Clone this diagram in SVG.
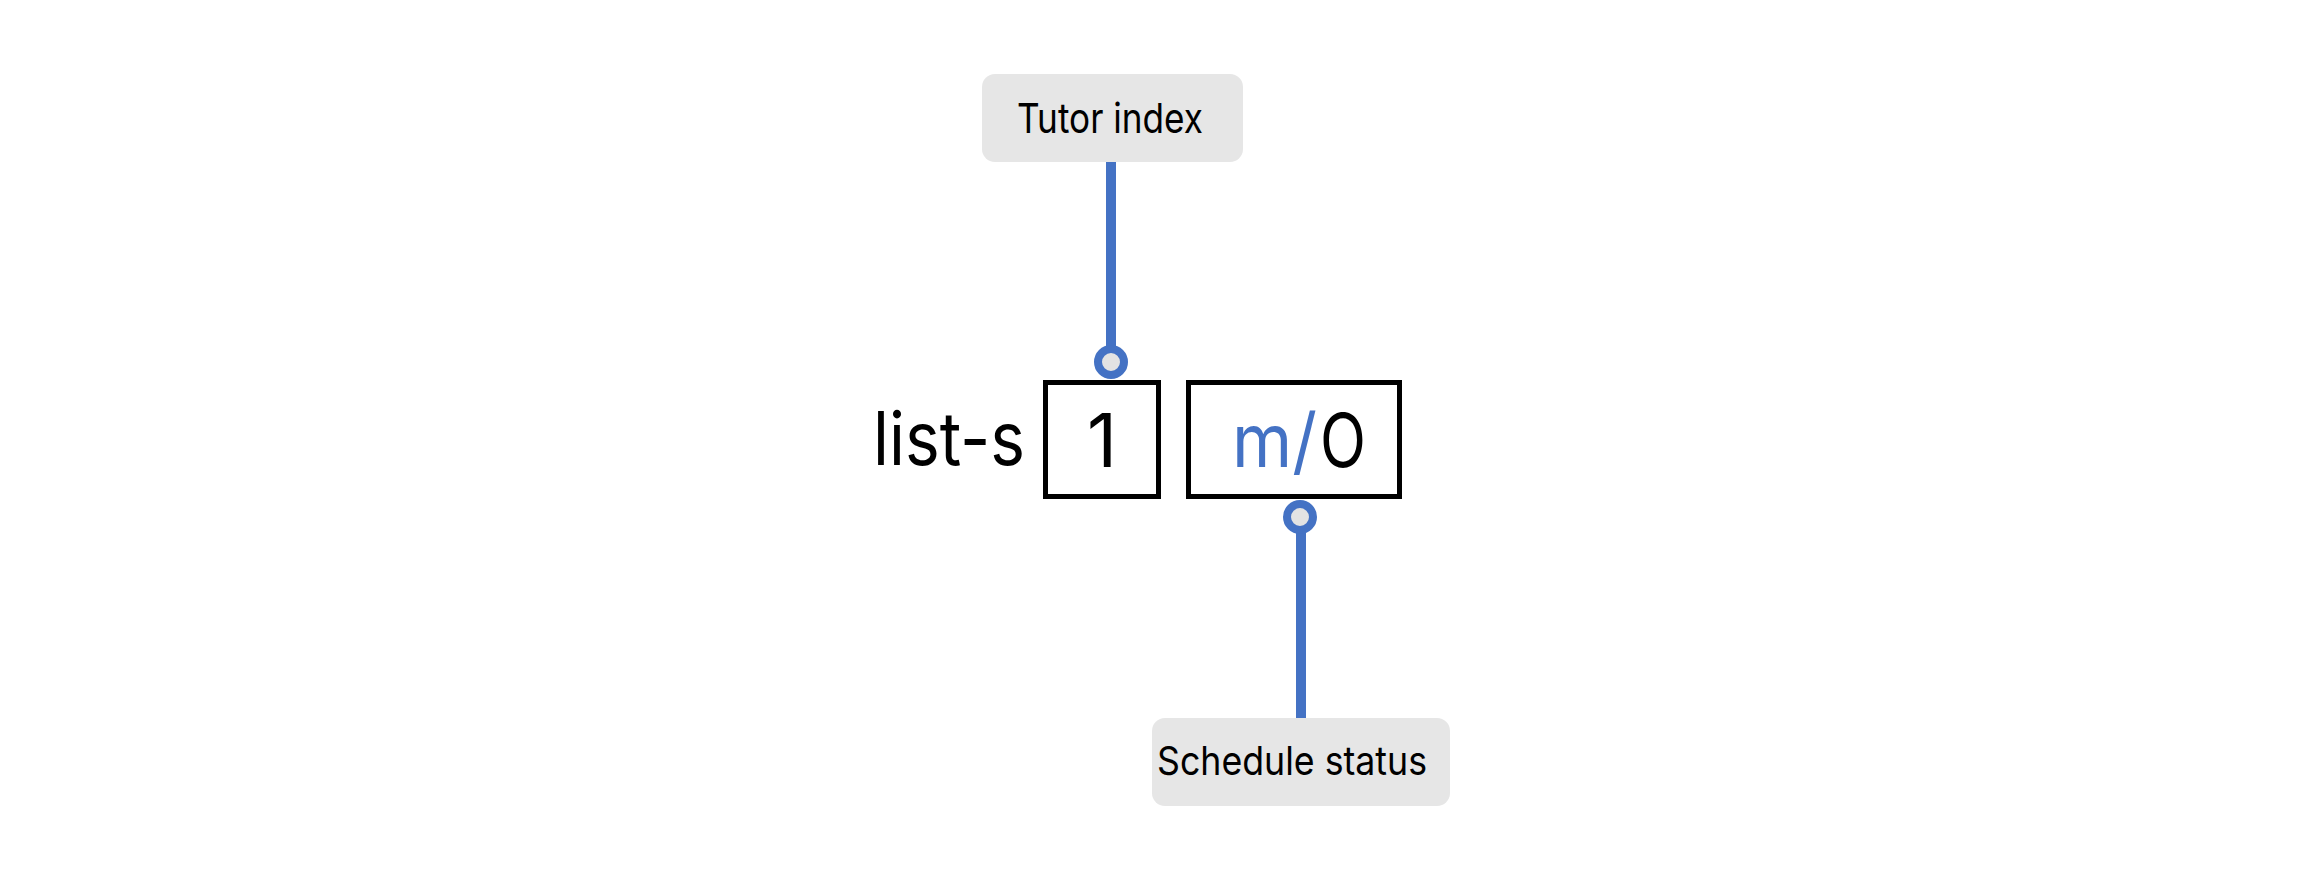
<svg xmlns="http://www.w3.org/2000/svg" width="2304" height="880" viewBox="0 0 2304 880">
<style>
.lbl{fill:#e6e6e6}
.lt{font-family:Inter,"Liberation Sans",sans-serif;fill:#000}
.cell{fill:#fff;stroke:#000;stroke-width:5}
.big{font-family:Inter,"Liberation Sans",sans-serif;font-size:74px;fill:#000}
.blue{fill:#4472c4}
.conn{stroke:#4472c4;stroke-width:10;fill:none}
.dot{fill:#e3e3e3;stroke:#4472c4;stroke-width:8}
</style>
<rect width="2304" height="880" fill="#fff"/>
<g id="connectors">
<line class="conn" x1="1111" y1="160" x2="1111" y2="348"/>
<line class="conn" x1="1301" y1="530" x2="1301" y2="720"/>
</g>
<g id="tutor-index">
<rect class="lbl" x="982" y="74" width="261" height="88" rx="13"/>
<text class="lt" x="1017" y="133" font-size="41" textLength="186" lengthAdjust="spacingAndGlyphs">Tutor index</text>
</g>
<g id="schedule-status">
<rect class="lbl" x="1152" y="718" width="298" height="88" rx="13"/>
<text class="lt" x="1157" y="775" font-size="40" textLength="270" lengthAdjust="spacingAndGlyphs">Schedule status</text>
</g>
<g id="prefix">
<text class="big" x="873" y="465" textLength="152" lengthAdjust="spacingAndGlyphs">list-s</text>
</g>
<g id="cell-1">
<rect class="cell" x="1045.5" y="382.5" width="113" height="114"/>
<text class="big" x="1102" y="467" text-anchor="middle">1</text>
</g>
<g id="cell-mo">
<rect class="cell" x="1188.5" y="382.5" width="211" height="114"/>
<text class="big blue" x="1232" y="467" textLength="85" lengthAdjust="spacingAndGlyphs">m/</text>
<text class="big" x="1320" y="467" textLength="46" lengthAdjust="spacingAndGlyphs">O</text>
</g>
<g id="port-top">
<circle class="dot" cx="1111" cy="362" r="13"/>
</g>
<g id="port-bottom">
<circle class="dot" cx="1300" cy="517" r="13"/>
</g>
</svg>
